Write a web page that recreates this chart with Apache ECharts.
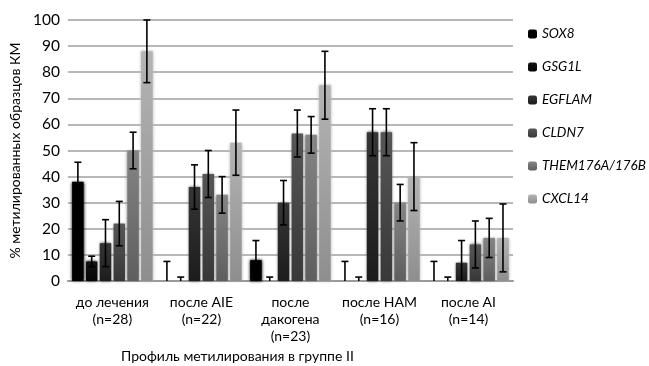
<!DOCTYPE html>
<html><head><meta charset="utf-8">
<script src="https://cdn.jsdelivr.net/npm/echarts@6/dist/echarts.min.js"></script>
<style>html,body{margin:0;padding:0;background:#fff}#c{width:649px;height:366px}</style>
</head><body><div id="c"></div>
<script>
const categories = ['до лечения\n(n=28)', 'после AIE\n(n=22)', 'после\nдакогена\n(n=23)', 'после HAM\n(n=16)', 'после AI\n(n=14)'];
const genes = ['SOX8', 'GSG1L', 'EGFLAM', 'CLDN7', 'THEM176A/176B', 'CXCL14'];
const SOX8   = [38, 0, 8, 0, 0];
const GSG1L  = [7.5, 0, 0, 0, 0];
const EGFLAM = [14.5, 36, 30, 57, 7];
const CLDN7  = [22, 41, 56.5, 57, 14];
const THEM   = [50, 33, 56, 30, 16.5];
const CXCL14 = [88, 53, 75, 40, 16.5];
const errSOX8   = [7.5, 7.5, 7.5, 7.5, 7.5];
const errGSG1L  = [2, 1.5, 1.5, 1.5, 1.5];
const errEGFLAM = [9, 8.5, 8.5, 9, 8.5];
const errCLDN7  = [8.5, 9, 9, 9, 9];
const errTHEM   = [7, 7, 7, 7, 7.5];
const errCXCL14 = [12, 12.5, 13, 13, 13];
const yTicks = [0, 10, 20, 30, 40, 50, 60, 70, 80, 90, 100];
const yName = '% метилированных образцов КМ';
const xName = 'Профиль метилирования в группе II';

const values = [SOX8, GSG1L, EGFLAM, CLDN7, THEM, CXCL14];
const errs = [errSOX8, errGSG1L, errEGFLAM, errCLDN7, errTHEM, errCXCL14];
const tops = ['#000000', '#141414', '#363636', '#565656', '#858585', '#b4b4b4'];
const bots = ['#000000', '#050505', '#1c1c1c', '#383838', '#5e5e5e', '#8e8e8e'];
const FONT = 'Lato';
const BAR_W = 11.5, STEP = 13.8;

const chart = echarts.init(document.getElementById('c'));
const series = genes.map((g, i) => ({
  name: g, type: 'bar', data: values[i], barWidth: BAR_W, barGap: '20%',
  itemStyle: { color: new echarts.graphic.LinearGradient(0, 0, 0, 1, [
    { offset: 0, color: tops[i] }, { offset: 1, color: bots[i] }]),
    shadowBlur: 3, shadowColor: tops[i] },
  z: 2
}));
const errData = [];
values.forEach((arr, si) => arr.forEach((v, ci) => errData.push([ci, si, v, errs[si][ci]])));
series.push({
  type: 'custom', name: 'err', z: 5, silent: true,
  data: errData,
  encode: { x: 0, y: 2 },
  renderItem: function (params, api) {
    const ci = api.value(0), si = api.value(1), v = api.value(2), e = api.value(3);
    const off = (si - 2.5) * STEP;
    const hi = api.coord([ci, v + e]);
    const lo = api.coord([ci, Math.max(0, v - e)]);
    const x = hi[0] + off;
    const cap = 3.5;
    const children = [
      { type: 'line', shape: { x1: x, y1: hi[1], x2: x, y2: lo[1] }, style: { stroke: '#000', lineWidth: 1.6 } },
      { type: 'line', shape: { x1: x - cap, y1: hi[1], x2: x + cap, y2: hi[1] }, style: { stroke: '#000', lineWidth: 1.6 } }
    ];
    if (v - e > 0) children.push({ type: 'line', shape: { x1: x - cap, y1: lo[1], x2: x + cap, y2: lo[1] }, style: { stroke: '#000', lineWidth: 1.6 } });
    return { type: 'group', children };
  }
});

chart.setOption({
  animation: false,
  backgroundColor: '#fff',
  grid: { left: 58, right: 136, top: 20, bottom: 85 },
  legend: {
    data: genes, orient: 'vertical', left: 528, top: 27, itemWidth: 9, itemHeight: 9, itemGap: 19,
    padding: 0,
    textStyle: { fontFamily: FONT, fontStyle: 'italic', fontSize: 13.5, color: '#000' }
  },
  xAxis: {
    type: 'category', data: categories,
    axisLine: { lineStyle: { color: '#9a9a9a', width: 2 } },
    axisTick: { show: false },
    axisLabel: { fontFamily: FONT, fontSize: 14, color: '#000', lineHeight: 17, margin: 13, interval: 0 }
  },
  yAxis: {
    type: 'value', min: 0, max: 100, interval: 10,
    name: yName, nameLocation: 'middle', nameGap: 34,
    nameTextStyle: { fontFamily: FONT, fontSize: 14, color: '#000' },
    axisLine: { show: false }, axisTick: { show: false },
    axisLabel: { fontFamily: FONT, fontSize: 15.5, color: '#000', margin: 8,
      formatter: v => yTicks.indexOf(v) >= 0 ? String(v) : '' },
    splitLine: { lineStyle: { color: '#a0a0a0', width: 1.5 } }
  },
  graphic: [{ type: 'text', left: 121, top: 349,
    style: { text: xName, fontFamily: FONT, fontSize: 14, fill: '#000' } }],
  series
});
</script></body></html>
